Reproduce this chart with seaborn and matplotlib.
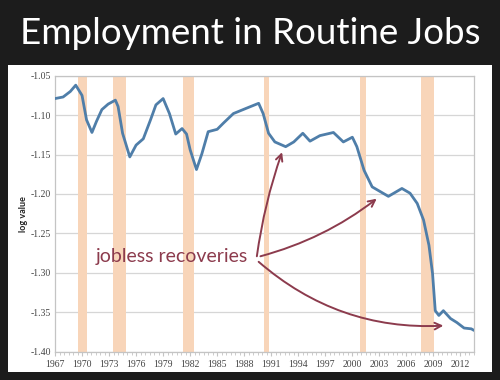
import numpy as np
import pandas as pd
import matplotlib
matplotlib.use('Agg')
import matplotlib.pyplot as plt
import seaborn as sns
from matplotlib.patches import Rectangle
from matplotlib.ticker import MultipleLocator, FormatStrFormatter

years = [1967.0, 1967.9, 1968.7, 1969.3, 1970.0, 1970.5, 1971.1, 1971.6, 1972.2, 1972.9,
         1973.7, 1974.0, 1974.5, 1975.3, 1976.0, 1976.8, 1977.6, 1978.2, 1979.0, 1979.7,
         1980.4, 1981.1, 1981.6, 1982.0, 1982.7, 1983.3, 1984.0, 1985.0, 1985.7, 1986.8,
         1988.3, 1989.6, 1990.1, 1990.7, 1991.4, 1992.6, 1993.5, 1994.5, 1995.3, 1996.4,
         1997.9, 1999.0, 2000.0, 2000.5, 2001.3, 2002.2, 2004.0, 2004.6, 2005.5, 2006.4,
         2007.2, 2007.9, 2008.5, 2008.9, 2009.2, 2009.6, 2010.1, 2010.9, 2011.6, 2012.4,
         2013.2, 2013.5]
log_value = [-1.079, -1.077, -1.070, -1.062, -1.075, -1.106, -1.122, -1.108, -1.093, -1.086,
             -1.081, -1.089, -1.123, -1.153, -1.138, -1.130, -1.106, -1.087, -1.079, -1.098,
             -1.124, -1.117, -1.124, -1.144, -1.169, -1.149, -1.121, -1.118, -1.110, -1.098,
             -1.091, -1.085, -1.098, -1.123, -1.134, -1.140, -1.134, -1.123, -1.133, -1.126,
             -1.122, -1.134, -1.128, -1.140, -1.170, -1.191, -1.203, -1.199, -1.193, -1.199,
             -1.212, -1.233, -1.265, -1.301, -1.348, -1.354, -1.348, -1.358, -1.363, -1.370,
             -1.371, -1.373]

# recession shading (start, end)
recessions = [(1969.55, 1970.55), (1973.45, 1974.9), (1981.2, 1982.45),
              (1990.15, 1990.8), (2000.9, 2001.5), (2007.65, 2009.1)]

# arrow targets for the annotation
arrow_targets = [(1992.2, -1.147), (2002.7, -1.206), (2010.1, -1.367)]

df = pd.DataFrame({'year': years, 'log value': log_value})

sns.set_style('white')
plt.rcParams['font.family'] = ['Lato', 'DejaVu Sans']

fig = plt.figure(figsize=(5, 3.8), dpi=100)
fig.patch.set_facecolor('#1c1c1c')

# white slide panel
fig.patches.append(Rectangle((8 / 500, 1 - 372 / 380), 484 / 500, 307 / 380,
                             transform=fig.transFigure, facecolor='white',
                             edgecolor='none', zorder=-5))
fig.text(0.5, 0.913, 'Employment in Routine Jobs', color='white', fontsize=26.5,
         ha='center', va='center')

ax = fig.add_axes([55 / 500, 1 - 351.7 / 380, 419 / 500, 276 / 380])
ax.set_zorder(2)
ax.set_facecolor('white')

for a, b in recessions:
    ax.axvspan(a, b, color='#f8d5b9', lw=0, zorder=1)

sns.lineplot(data=df, x='year', y='log value', ax=ax, color='#4f7ea9', lw=2.0, zorder=3)

ax.set_xlim(1967, 2013.5)
ax.set_ylim(-1.40, -1.05)
ax.set_xticks(np.arange(1967, 2013, 3))
ax.xaxis.set_minor_locator(MultipleLocator(0.5))
ax.yaxis.set_major_locator(MultipleLocator(0.05))
ax.yaxis.set_major_formatter(FormatStrFormatter('%.2f'))
ax.grid(axis='y', color='#d6d6d6', lw=0.9)
ax.set_axisbelow(True)
for s in ax.spines.values():
    s.set_color('#c4c4c4')
    s.set_linewidth(0.9)
ax.tick_params(axis='both', labelsize=7, colors='#444444', length=0, pad=3)
ax.tick_params(axis='x', which='both', bottom=True, direction='out', color='#c4c4c4')
ax.tick_params(axis='x', which='major', length=3)
ax.tick_params(axis='x', which='minor', length=2)
for lab in ax.get_xticklabels() + ax.get_yticklabels():
    lab.set_family(['Liberation Serif', 'DejaVu Serif'])
ax.set_xlabel('')
ax.set_ylabel('log value', fontsize=6.5, color='#222222', fontweight='bold')
ax.yaxis.set_label_coords(-0.065, 0.5)

txt_col = '#8c3b4d'
ax.text(1971.5, -1.279, 'jobless recoveries', color=txt_col, fontsize=14,
        ha='left', va='center')
starts = [(1989.4, -1.279), (1989.8, -1.279), (1989.6, -1.286)]
rads = [-0.05, 0.1, 0.2]
for (sx, sy), (tx, ty), r in zip(starts, arrow_targets, rads):
    ax.annotate('', xy=(tx, ty), xytext=(sx, sy),
                arrowprops=dict(arrowstyle='->', color=txt_col, lw=1.4,
                                connectionstyle=f'arc3,rad={r}', shrinkA=0, shrinkB=0,
                                mutation_scale=12))

fig.savefig('out.png', dpi=100, facecolor=fig.get_facecolor())
